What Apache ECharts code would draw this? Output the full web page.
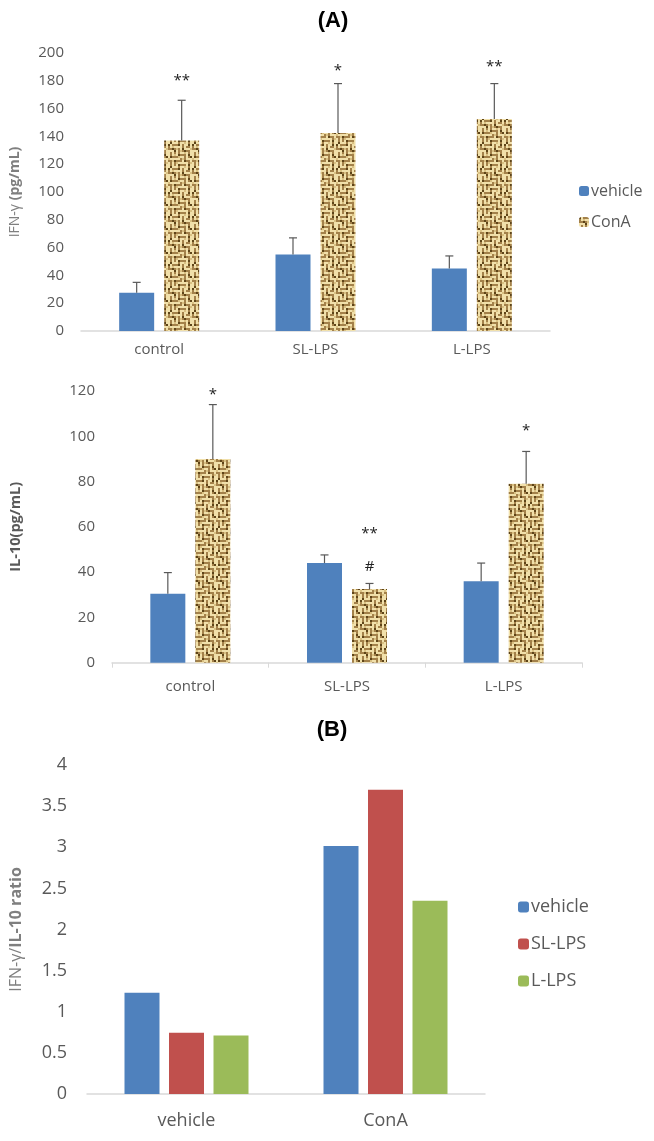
<!DOCTYPE html>
<html>
<head>
<meta charset="utf-8">
<script src="https://cdn.jsdelivr.net/npm/echarts@6/dist/echarts.min.js"></script>
<style>
html,body{margin:0;padding:0;background:#fff;}
#main{width:654px;height:1141px;}
</style>
</head>
<body>
<div id="main"></div>
<script>
// ---------- data ----------
var groupsA = ['control', 'SL-LPS', 'L-LPS'];
var ifnVehicle = [27.5, 55, 45];
var ifnVehicleErr = [7.5, 12, 9];
var ifnConA = [137, 142.5, 152.5];
var ifnConAErr = [29, 35.5, 25.5];
var ifnStars = [['control', 180, '**'], ['SL-LPS', 187, '*'], ['L-LPS', 190, '**']];

var il10Vehicle = [30.5, 44, 36];
var il10VehicleErr = [9.3, 3.6, 8];
var il10ConA = [90, 32.5, 79];
var il10ConAErr = [24, 2.5, 14.3];
var il10Marks = [['control', 118.5, '*'], ['SL-LPS', 57, '**'], ['SL-LPS', 42.5, '#'], ['L-LPS', 102.5, '*']];

var groupsB = ['vehicle', 'ConA'];
var ratioVehicle = [1.23, 3.015];
var ratioSL = [0.745, 3.70];
var ratioL = [0.71, 2.35];

var ticksIFN = {min: 0, max: 200, interval: 20};
var ticksIL10 = {min: 0, max: 120, interval: 20};
var ticksRatio = {min: 0, max: 4, interval: 0.5};

// ---------- styles ----------
var BLUE = '#4F81BD', RED = '#C0504D', GREEN = '#9BBB59';
var TXT = '#595959', AXIS = '#D9D9D9';
var FONT = '"Open Sans", "Noto Sans", sans-serif';

function makePattern() {
  var c = document.createElement('canvas');
  var rows = [
    '#.####.#..#.',
    '#......#.##.',
    '####.#.#....',
    '...#.#.####.',
    '.#.#.#....#.',
    '.#...####.#.',
    '.####...#.##',
    '......#.#...',
    '##.####.###.',
    '.#.#......#.',
    '.#.#.####.#.',
    '.#...#....#.'
  ];
  var s = 2;
  c.width = rows[0].length * s; c.height = rows.length * s;
  var ctx = c.getContext('2d');
  ctx.fillStyle = '#F1E0AA';
  ctx.fillRect(0, 0, c.width, c.height);
  for (var y = 0; y < rows.length; y++) {
    for (var x = 0; x < rows[y].length; x++) {
      if (rows[y][x] === '#') {
        ctx.fillStyle = ((x * 7 + y * 3) % 5 === 0) ? '#5E4418' : '#A3814A';
        ctx.fillRect(x * s, y * s, s, s);
      } else if ((x * 5 + y * 11) % 7 === 0) {
        ctx.fillStyle = '#D9C083';
        ctx.fillRect(x * s, y * s, s, s);
      }
    }
  }
  return {image: c, repeat: 'repeat'};
}
var PATTERN = makePattern();

var BW = 35, GAP_A = 10, GAP_B = 9.5;

function errSeries(xi, yi, vals, errs, side) {
  var data = vals.map(function (v, i) { return [i, v, errs[i]]; });
  return {
    type: 'custom', xAxisIndex: xi, yAxisIndex: yi, z: 5, silent: true,
    data: data,
    renderItem: function (params, api) {
      var c = api.value(0), v = api.value(1), e = api.value(2);
      var p0 = api.coord([c, v]);
      var p1 = api.coord([c, v + e]);
      var x = p0[0] + side * (BW + GAP_A) / 2;
      return {
        type: 'group',
        children: [
          {type: 'line', shape: {x1: x, y1: p0[1], x2: x, y2: p1[1]}, style: {stroke: TXT, lineWidth: 1.2}},
          {type: 'line', shape: {x1: x - 4, y1: p1[1], x2: x + 4, y2: p1[1]}, style: {stroke: TXT, lineWidth: 1.2}}
        ]
      };
    }
  };
}

function markSeries(xi, yi, marks, cats, side) {
  var data = marks.map(function (m) { return [cats.indexOf(m[0]), m[1]]; });
  return {
    type: 'custom', xAxisIndex: xi, yAxisIndex: yi, z: 6, silent: true,
    data: data,
    renderItem: function (params, api) {
      var p = api.coord([api.value(0), api.value(1)]);
      return {
        type: 'text',
        x: p[0] + side * (BW + GAP_A) / 2, y: p[1],
        style: {text: marks[params.dataIndex][2], fill: '#222', font: '15px ' + FONT, align: 'center', verticalAlign: 'middle'}
      };
    }
  };
}

function yAxis(gi, t, name, nameGap, fs, rich) {
  return {
    type: 'value', gridIndex: gi, min: t.min, max: t.max, interval: t.interval,
    splitLine: {show: false}, axisLine: {show: false}, axisTick: {show: false},
    axisLabel: {color: TXT, fontSize: fs, fontFamily: FONT, margin: gi === 2 ? 20 : 17},
    name: name, nameLocation: 'middle', nameGap: nameGap, nameRotate: 90,
    nameTextStyle: {rich: rich}
  };
}

var option = {
  animation: false,
  backgroundColor: '#fff',
  title: [
    {text: '(A)', left: 328, top: 5, textAlign: 'center', textStyle: {fontFamily: 'Liberation Sans, Arial', fontWeight: 'bold', fontSize: 22, color: '#000'}},
    {text: '(B)', left: 327, top: 714, textAlign: 'center', textStyle: {fontFamily: 'Liberation Sans, Arial', fontWeight: 'bold', fontSize: 22, color: '#000'}}
  ],
  legend: [
    {data: ['vehicle', 'ConA'], left: 574, top: 178, orient: 'vertical', itemWidth: 10, itemHeight: 10, itemGap: 15,
      textStyle: {color: TXT, fontSize: 16, fontFamily: FONT, padding: [0, 0, 0, -3]}},
    {data: ['vehicle ', 'SL-LPS', 'L-LPS'], left: 513, top: 893, orient: 'vertical', itemWidth: 11, itemHeight: 11, itemGap: 19,
      textStyle: {color: TXT, fontSize: 18, fontFamily: FONT, padding: [0, 0, 0, -3]},
      formatter: function (n) { return n.trim(); }}
  ],
  grid: [
    {left: 77, right: 104, top: 53, height: 278},
    {left: 107, right: 72, top: 391, height: 271.7},
    {left: 85, right: 169, top: 765, height: 329}
  ],
  xAxis: [
    {type: 'category', gridIndex: 0, data: groupsA, axisLine: {lineStyle: {color: AXIS, width: 1.5}}, axisTick: {show: false},
      axisLabel: {color: TXT, fontSize: 15, fontFamily: FONT, margin: 11}},
    {type: 'category', gridIndex: 1, data: groupsA, axisLine: {lineStyle: {color: AXIS, width: 1.5}},
      axisTick: {show: true, length: 5, inside: false, lineStyle: {color: AXIS}},
      axisLabel: {color: TXT, fontSize: 15, fontFamily: FONT, margin: 17}},
    {type: 'category', gridIndex: 2, data: groupsB, axisLine: {lineStyle: {color: AXIS, width: 1.5}}, axisTick: {show: false},
      axisLabel: {color: TXT, fontSize: 18, fontFamily: FONT, margin: 18}}
  ],
  yAxis: [
    yAxis(0, ticksIFN, '{n|IFN-γ }{b|(pg/mL)}', 59, 15, {
      n: {fontSize: 14, color: '#7F7F7F', fontFamily: FONT},
      b: {fontSize: 14, color: '#7F7F7F', fontFamily: FONT, fontWeight: 'bold'}}),
    yAxis(1, ticksIL10, '{b|IL-10(pg/mL)}', 89, 15, {
      b: {fontSize: 14.5, color: '#595959', fontFamily: FONT, fontWeight: 'bold'}}),
    yAxis(2, ticksRatio, '{n|IFN-γ/}{b|IL-10 ratio}', 63, 18, {
      n: {fontSize: 16, color: '#7F7F7F', fontFamily: FONT},
      b: {fontSize: 16, color: '#7F7F7F', fontFamily: FONT, fontWeight: 'bold'}})
  ],
  series: [
    {name: 'vehicle', type: 'bar', xAxisIndex: 0, yAxisIndex: 0, data: ifnVehicle, barWidth: BW, barGap: (GAP_A / BW * 100) + '%', itemStyle: {color: BLUE}},
    {name: 'ConA', type: 'bar', xAxisIndex: 0, yAxisIndex: 0, data: ifnConA, barWidth: BW, itemStyle: {color: PATTERN}},
    errSeries(0, 0, ifnVehicle, ifnVehicleErr, -1),
    errSeries(0, 0, ifnConA, ifnConAErr, 1),
    markSeries(0, 0, ifnStars, groupsA, 1),

    {name: 'vehicle', type: 'bar', xAxisIndex: 1, yAxisIndex: 1, data: il10Vehicle, barWidth: BW, barGap: (GAP_A / BW * 100) + '%', itemStyle: {color: BLUE}},
    {name: 'ConA', type: 'bar', xAxisIndex: 1, yAxisIndex: 1, data: il10ConA, barWidth: BW, itemStyle: {color: PATTERN}},
    errSeries(1, 1, il10Vehicle, il10VehicleErr, -1),
    errSeries(1, 1, il10ConA, il10ConAErr, 1),
    markSeries(1, 1, il10Marks, groupsA, 1),

    {name: 'vehicle ', type: 'bar', xAxisIndex: 2, yAxisIndex: 2, data: ratioVehicle, barWidth: BW, barGap: (GAP_B / BW * 100) + '%', itemStyle: {color: BLUE}},
    {name: 'SL-LPS', type: 'bar', xAxisIndex: 2, yAxisIndex: 2, data: ratioSL, barWidth: BW, barGap: (GAP_B / BW * 100) + '%', itemStyle: {color: RED}},
    {name: 'L-LPS', type: 'bar', xAxisIndex: 2, yAxisIndex: 2, data: ratioL, barWidth: BW, barGap: (GAP_B / BW * 100) + '%', itemStyle: {color: GREEN}}
  ]
};

var chart = echarts.init(document.getElementById('main'), null, {renderer: 'canvas'});
chart.setOption(option);
</script>
</body>
</html>
